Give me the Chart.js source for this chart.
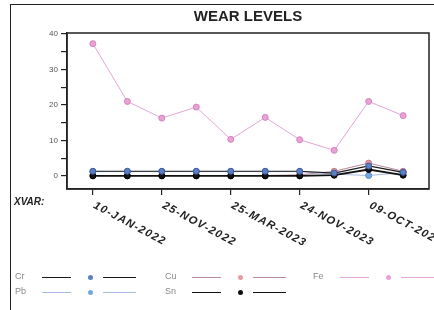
<!DOCTYPE html>
<html>
<head>
<meta charset="utf-8">
<script src="https://cdn.jsdelivr.net/npm/chart.js@4/dist/chart.umd.min.js"></script>
<style>
  html,body{margin:0;padding:0;background:#fff;}
  #wrap{position:relative;width:434px;height:310px;overflow:hidden;font-family:"Liberation Sans",Arial,sans-serif;}
  #frame{position:absolute;left:10px;top:4px;width:440px;height:320px;border-left:1.5px solid #222;border-top:1.5px solid #222;}
  #title{position:absolute;left:67px;width:362px;top:7px;text-align:center;font-weight:bold;font-size:15px;color:#222;}
  #xvar{position:absolute;left:14px;top:196px;font-weight:bold;font-style:italic;font-size:10px;color:#222;}
  canvas{position:absolute;left:0;top:0;}
  .lg{position:absolute;font-size:9px;color:#888;height:10px;}
  .lg span{position:absolute;top:-1px;}
  .seg{position:absolute;height:0;}
  .dot{position:absolute;width:5px;height:5px;border-radius:50%;}
</style>
</head>
<body>
<div id="wrap">
  <div id="frame"></div>
  <canvas id="c" width="434" height="310"></canvas>
  <div id="title">WEAR LEVELS</div>
  <div id="xvar">XVAR:</div>
  <div id="legend"></div>
</div>
<script>
// ---- data ----
const categories = ['10-JAN-2022','','25-NOV-2022','','25-MAR-2023','','24-NOV-2023','','09-OCT-2024',''];
const tickIndex = [0,2,4,6,8];
const yTicks = [0,5,10,15,20,25,30,35,40];
const seriesNames = ['Cr','Cu','Fe','Pb','Sn'];
const cr = [1.3,1.3,1.3,1.3,1.3,1.3,1.3,0.8,2.8,1.0];
const cu = [0.1,0.1,0.1,0.1,0.1,0.1,0.3,1.3,3.6,1.3];
const fe = [37.3,21.0,16.3,19.4,10.3,16.5,10.2,7.2,21.0,17.0];
const pb = [1.2,1.2,1.2,1.2,1.2,1.2,1.2,0.5,0.1,0.9];
const sn = [0.0,0.0,0.0,0.0,0.0,0.0,0.0,0.2,1.8,0.2];

const styles = {
  Cr:{line:'#1a1a1a', pt:'#5b7fc4', ptb:'#3d5a99', w:1.2},
  Cu:{line:'#b88a9c', pt:'#e99aa2', ptb:'#c97a84', w:1},
  Fe:{line:'#e2a6d4', pt:'#eaa2d6', ptb:'#d284bd', w:1},
  Pb:{line:'#a9b9e2', pt:'#74a8df', ptb:'#5a8cc4', w:1},
  Sn:{line:'#111111', pt:'#111111', ptb:'#000000', w:1.8}
};
const values = {Cr:cr, Cu:cu, Fe:fe, Pb:pb, Sn:sn};
const drawOrder = ['Cu','Pb','Sn','Cr','Fe'];

const datasets = drawOrder.map((n,k)=>({
  label:n,
  data: values[n].map((v,i)=>({x:i,y:v})),
  borderColor: styles[n].line,
  borderWidth: styles[n].w,
  pointBackgroundColor: styles[n].pt,
  pointBorderColor: styles[n].ptb,
  pointBorderWidth: 1,
  pointRadius: 3,
  tension: 0,
  order: drawOrder.length - k
}));

const framePlugin = {
  id:'frame',
  afterDraw(chart){
    const {ctx, chartArea:a, scales} = chart;
    ctx.save();
    ctx.strokeStyle = '#222';
    ctx.lineWidth = 1.5;
    ctx.strokeRect(a.left, a.top, a.right-a.left, a.bottom-a.top);
    // rotated x labels
    ctx.fillStyle = '#222';
    ctx.font = 'italic bold 11px "Liberation Sans", Arial, sans-serif';
    ctx.letterSpacing = '1.3px';
    ctx.textAlign = 'left';
    ctx.textBaseline = 'top';
    tickIndex.forEach(i=>{
      const x = scales.x.getPixelForValue(i);
      ctx.save();
      ctx.translate(x+4, a.bottom + 11);
      ctx.rotate(28*Math.PI/180);
      ctx.fillText(categories[i], 0, 0);
      ctx.restore();
    });
    ctx.restore();
  }
};

new Chart(document.getElementById('c'), {
  type:'line',
  data:{datasets},
  options:{
    responsive:false,
    animation:false,
    layout:{padding:{left:0,right:5,top:33,bottom:0}},
    plugins:{legend:{display:false}, title:{display:false}, tooltip:{enabled:false}},
    scales:{
      x:{
        type:'linear', min:-0.75, max:9.75,
        afterBuildTicks(s){ s.ticks = tickIndex.map(v=>({value:v})); },
        afterFit(s){ s.height = 121; },
        ticks:{display:false},
        grid:{drawOnChartArea:false, drawTicks:true, tickLength:6, color:'#222', lineWidth:1.2},
        border:{display:true, color:'#222', width:1.5}
      },
      y:{
        min:-3.7, max:40.3,
        afterBuildTicks(s){ s.ticks = yTicks.map(v=>({value:v})); },
        afterFit(s){ s.width = 67; },
        ticks:{callback:v=> (v%10===0 ? String(v) : ''), font:{size:8, family:'"Liberation Sans", Arial, sans-serif'}, color:'#555', padding:3},
        grid:{drawOnChartArea:false, drawTicks:true, tickLength:6, color:'#222', lineWidth:1.2},
        border:{display:true, color:'#222', width:1.5}
      }
    }
  },
  plugins:[framePlugin]
});

// ---- HTML legend ----
const legendLayout = [
  {n:'Cr', x:15, y:272}, {n:'Cu', x:165, y:272}, {n:'Fe', x:313, y:272},
  {n:'Pb', x:15, y:287}, {n:'Sn', x:165, y:287}
];
const lg = document.getElementById('legend');
legendLayout.forEach(e=>{
  const s = styles[e.n];
  const d = document.createElement('div');
  d.className = 'lg';
  d.style.left = e.x+'px'; d.style.top = e.y+'px';
  const lw = Math.max(1, s.w);
  d.innerHTML =
    '<span style="left:0">'+e.n+'</span>'+
    '<div class="seg" style="left:27px;width:29px;top:5px;border-top:'+lw+'px solid '+s.line+'"></div>'+
    '<div class="dot" style="left:73px;top:3px;background:'+s.pt+'"></div>'+
    '<div class="seg" style="left:88px;width:33px;top:5px;border-top:'+lw+'px solid '+s.line+'"></div>';
  lg.appendChild(d);
});
</script>
</body>
</html>
